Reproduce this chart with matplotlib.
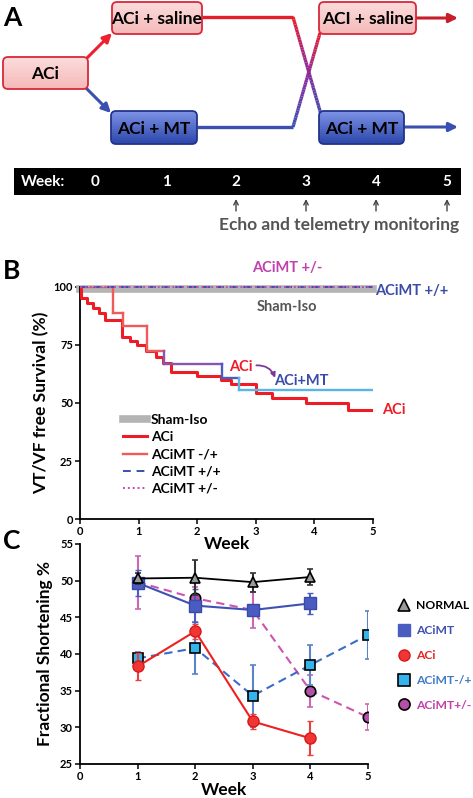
import numpy as np
import matplotlib
matplotlib.use('Agg')
import matplotlib.pyplot as plt
from matplotlib.patches import FancyBboxPatch, Rectangle
from matplotlib.collections import LineCollection
from matplotlib.colors import LinearSegmentedColormap, to_rgb
from matplotlib.lines import Line2D

plt.rcParams['font.family'] = ['Lato', 'DejaVu Sans']
plt.rcParams['font.weight'] = 'bold'

# ---- panel B data (Kaplan-Meier style steps) ----
aci_weeks = [0, 0.02, 0.12, 0.22, 0.32, 0.43, 0.71, 0.86, 0.97, 1.12, 1.30, 1.42, 1.56,
             1.99, 2.41, 2.58, 3.01, 3.28, 3.85, 4.57, 5.0]
aci_surv = [100, 95.0, 93.0, 90.8, 88.7, 85.6, 78.5, 76.7, 75.0, 72.5, 69.9, 67.0, 63.5,
            61.5, 60.0, 58.0, 54.5, 52.3, 49.8, 47.2, 47.2]
swap_weeks = [0, 0.57, 0.73, 1.15, 1.44, 2.43, 2.71, 5.0]
swap_surv = [100, 88.7, 83.2, 72.5, 66.6, 60.8, 55.5, 55.5]
swap_colors = ['#f05a5a', '#f05a5a', '#f05a5a', '#f05a5a', '#8a55b0', '#4a5cc0', '#5ab4e6']
flat_weeks = [0, 5]
sham_surv = [99, 99]
mt_pp_surv = [100, 100]
mt_pm_surv = [100, 100]

# ---- panel C data (fractional shortening) ----
normal_wk = [1, 2, 3, 4]
normal_fs = [50.3, 50.4, 49.8, 50.5]
normal_err = [0.8, 2.4, 1.3, 1.1]
acimt_wk = [1, 2, 3, 4]
acimt_fs = [49.7, 46.6, 46.0, 46.9]
acimt_err = [1.8, 2.3, 0.5, 1.4]
aci_wk = [1, 2, 3, 4]
aci_fs = [38.3, 43.1, 30.8, 28.5]
aci_err = [1.9, 1.0, 1.0, 2.3]
mp_wk = [1, 2, 3, 4, 5]
mp_fs = [39.4, 40.8, 34.3, 38.5, 42.6]
mp_err = [0.9, 3.5, 4.2, 2.7, 3.3]
pm_wk = [1, 2, 3, 4, 5]
pm_fs = [49.8, 47.6, 46.0, 35.0, 31.4]
pm_err = [3.6, 1.5, 2.4, 2.2, 1.8]

week_labels = ['0', '1', '2', '3', '4', '5']
echo_weeks = [2, 3, 4, 5]

W, H = 473, 798
fig = plt.figure(figsize=(W / 100, H / 100), dpi=100)

# overlay in pixel coordinates for panel A and panel letters
ax0 = fig.add_axes([0, 0, 1, 1])
ax0.set_xlim(0, W)
ax0.set_ylim(H, 0)
ax0.axis('off')


def grad_box(x0, y0, w, h, c_top, c_bot, edge, text):
    patch = FancyBboxPatch((x0, y0), w, h, boxstyle='round,pad=0,rounding_size=5',
                           fc='none', ec=edge, lw=1.3, zorder=4)
    ax0.add_patch(patch)
    cmap = LinearSegmentedColormap.from_list('g', [c_top, c_bot])
    im = ax0.imshow(np.linspace(0, 1, 64).reshape(-1, 1), extent=(x0, x0 + w, y0 + h, y0),
                    origin='upper', cmap=cmap, aspect='auto', zorder=3)
    im.set_clip_path(patch)
    ax0.text(x0 + w / 2, y0 + h / 2 + 1, text, ha='center', va='center', fontsize=12.5,
             fontweight='bold', color='black', zorder=5)


pink = ('#fcdcdc', '#f6b9b9', '#d8283a')
blue = ('#7d93e6', '#2c47aa', '#22348a')
grad_box(3, 57, 85, 32, *pink, 'ACi')
grad_box(112, 2, 90, 32, *pink, 'ACi + saline')
grad_box(111, 111, 86, 33, *blue, 'ACi + MT')
grad_box(319, 2, 97, 32, *pink, 'ACI + saline')
grad_box(319, 111, 85, 33, *blue, 'ACi + MT')

red_c, blue_c, purple_c = '#e61e2a', '#3a4fb0', '#8a2aa0'


def grad_line(pts, c0, c1):
    (xa, ya), (xb, yb), (xc, yc) = pts
    ax0.plot([xa, xb], [ya, yb], color=c0, lw=2.4, solid_capstyle='butt', zorder=2)
    t = np.linspace(0, 1, 41)
    xs = xb + (xc - xb) * t
    ys = yb + (yc - yb) * t
    segs = np.stack([np.column_stack([xs[:-1], ys[:-1]]), np.column_stack([xs[1:], ys[1:]])], axis=1)
    a, b, m = np.array(to_rgb(c0)), np.array(to_rgb(c1)), np.array(to_rgb(purple_c))
    cols = []
    for tt in t[:-1]:
        cols.append(a + (m - a) * tt * 2 if tt < 0.5 else m + (b - m) * (tt - 0.5) * 2)
    ax0.add_collection(LineCollection(segs, colors=cols, lw=2.4, zorder=2))


grad_line([(202, 17), (293, 17), (322, 118)], red_c, blue_c)
grad_line([(197, 127), (293, 127), (320, 33)], blue_c, red_c)

arrow_kw = dict(arrowstyle='-|>', lw=2.2, mutation_scale=13, shrinkA=0, shrinkB=0)
ax0.annotate('', xy=(458, 18), xytext=(416, 18), arrowprops=dict(color='#c81e2a', **arrow_kw), zorder=2)
ax0.annotate('', xy=(458, 127), xytext=(404, 127), arrowprops=dict(color='#3a4fb0', **arrow_kw), zorder=2)
ax0.annotate('', xy=(112, 33), xytext=(86, 59), arrowprops=dict(color='#ee2030', **arrow_kw), zorder=2)
ax0.annotate('', xy=(111, 113), xytext=(86, 88), arrowprops=dict(color='#3a4fb0', **arrow_kw), zorder=2)

# timeline bar
ax0.add_patch(Rectangle((14, 168), 447, 27, fc='black', ec='none'))
ax0.text(21, 182, 'Week:', color='white', fontsize=11, fontweight='bold', ha='left', va='center')
bar_x = [95, 166, 236, 306, 376, 447]
for lab, xx in zip(week_labels, bar_x):
    ax0.text(xx, 182, lab, color='white', fontsize=11, fontweight='bold', ha='center', va='center')
for wk in echo_weeks:
    xx = bar_x[wk]
    ax0.annotate('', xy=(xx, 199), xytext=(xx, 211),
                 arrowprops=dict(arrowstyle='->', lw=1.0, color='#444444', mutation_scale=8,
                                 shrinkA=0, shrinkB=0))
ax0.text(459, 225, 'Echo and telemetry monitoring', ha='right', va='center', fontsize=12.5,
         fontweight='bold', color='#555555')

for lab, yy in [('A', 18), ('B', 271), ('C', 541)]:
    ax0.text(3, yy, lab, fontsize=19, fontweight='bold', ha='left', va='center')

# ---------------- panel B ----------------
axB = fig.add_axes([80 / W, 1 - 519.3 / H, 293 / W, 232.6 / H])
axB.plot(flat_weeks, sham_surv, color='#b4b4b4', lw=5.5, clip_on=False, zorder=2)
axB.step(aci_weeks, aci_surv, where='post', color='#ee1c25', lw=2.2, zorder=3)
for i in range(len(swap_weeks) - 1):
    c = swap_colors[i]
    axB.plot([swap_weeks[i], swap_weeks[i + 1]], [swap_surv[i], swap_surv[i]], color=c, lw=1.7, zorder=4)
    if i < len(swap_weeks) - 2:
        axB.plot([swap_weeks[i + 1], swap_weeks[i + 1]], [swap_surv[i], swap_surv[i + 1]],
                 color=swap_colors[i + 1] if i >= 3 else c, lw=1.7, zorder=4)
axB.plot(flat_weeks, mt_pp_surv, color='#3a4fb0', lw=1.4, ls=(0, (4, 3)), clip_on=False, zorder=5)
axB.plot(flat_weeks, mt_pm_surv, color='#c050b0', lw=1.4, ls=(0, (1, 1.5)), clip_on=False, zorder=5)

axB.set_xlim(0, 5)
axB.set_ylim(0, 100)
axB.set_xticks(range(6))
axB.set_yticks([0, 25, 50, 75, 100])
for s in ['top', 'right']:
    axB.spines[s].set_visible(False)
for s in ['left', 'bottom']:
    axB.spines[s].set_linewidth(1.3)
axB.tick_params(labelsize=8, length=3.5, width=1.1, pad=1.5)
axB.set_ylabel('VT/VF free Survival (%)', fontsize=12.5, fontweight='bold', labelpad=3)
axB.set_xlabel('Week', fontsize=12.5, fontweight='bold', labelpad=-1)

axB.text(3.53, 108, 'ACiMT +/-', color='#c040b0', fontsize=10.5, fontweight='bold', ha='center', va='center', clip_on=False)
axB.text(5.03, 98.3, 'ACiMT +/+', color='#3b4ba8', fontsize=10.5, fontweight='bold', ha='left', va='center', clip_on=False)
axB.text(3.53, 91.3, 'Sham-Iso', color='#555555', fontsize=10.5, fontweight='bold', ha='center', va='center')
axB.text(2.75, 65.5, 'ACi', color='#ee1c25', fontsize=10.5, fontweight='bold', ha='center', va='center')
axB.text(3.77, 59.3, 'ACi+MT', color='#3b4ba8', fontsize=10.5, fontweight='bold', ha='center', va='center')
axB.text(5.15, 46.8, 'ACi', color='#ee1c25', fontsize=10.5, fontweight='bold', ha='left', va='center', clip_on=False)
axB.annotate('', xy=(3.33, 60.8), xytext=(3.01, 66.2),
             arrowprops=dict(arrowstyle='-|>', color='#7a3a9a', lw=1.3, mutation_scale=7,
                             connectionstyle='arc3,rad=-0.35', shrinkA=0, shrinkB=0))

b_handles = [Line2D([], [], color='#b4b4b4', lw=5.5),
             Line2D([], [], color='#ee1c25', lw=2.2),
             Line2D([], [], color='#f05a5a', lw=1.7),
             Line2D([], [], color='#3a4fb0', lw=1.4, ls=(0, (4, 3))),
             Line2D([], [], color='#c050b0', lw=1.4, ls=(0, (1, 1.5)))]
b_labels = ['Sham-Iso', 'ACi', 'ACiMT -/+', 'ACiMT +/+', 'ACiMT +/-']
axB.legend(b_handles, b_labels, loc='upper left', bbox_to_anchor=(0.147, 0.452), frameon=False,
           prop={'size': 10, 'weight': 'bold'}, handlelength=1.75, handletextpad=0.25,
           labelspacing=0.37, borderpad=0, borderaxespad=0)

# ---------------- panel C ----------------
axC = fig.add_axes([80 / W, 1 - 764 / H, 288 / W, 220 / H])
axC.set_facecolor('none')
eb = dict(capsize=2, elinewidth=1.5, capthick=1.2)
axC.errorbar(pm_wk, pm_fs, yerr=pm_err, color='#cc55b0', ecolor='#cc66b0', ls=(0, (4, 2.5)), lw=1.5,
             marker='o', ms=7.5, mfc='#b550a8', mec='black', mew=1.2, zorder=3, **eb)
axC.errorbar(mp_wk, mp_fs, yerr=mp_err, color='#3a6cc8', ecolor='#5a84c8', ls=(0, (4, 2.5)), lw=1.5,
             marker='s', ms=7.5, mfc='#33b4ec', mec='black', mew=1.2, zorder=4, **eb)
axC.errorbar(aci_wk, aci_fs, yerr=aci_err, color='#ee2020', ecolor='#e84040', lw=1.5,
             marker='o', ms=8, mfc='#f03535', mec='#d81818', mew=1.0, zorder=5, **eb)
axC.errorbar(acimt_wk, acimt_fs, yerr=acimt_err, color='#3f51b5', ecolor='#4a5cc0', lw=1.5,
             marker='s', ms=8, mfc='#4a5cc0', mec='#3a4aa8', mew=1.0, zorder=6, **eb)
axC.errorbar(normal_wk, normal_fs, yerr=normal_err, color='black', ecolor='#333333', lw=1.3,
             marker='^', ms=7, mfc='#9a9a9a', mec='black', mew=1.2, zorder=7, **eb)

axC.set_xlim(0, 5)
axC.set_ylim(25, 55)
axC.set_xticks(range(6))
axC.set_yticks(range(25, 56, 5))
for s in ['top', 'right']:
    axC.spines[s].set_visible(False)
for s in ['left', 'bottom']:
    axC.spines[s].set_linewidth(1.3)
axC.tick_params(labelsize=8, length=3.5, width=1.1, pad=1.5)
axC.set_ylabel('Fractional Shortening %', fontsize=12.5, fontweight='bold', labelpad=5)
axC.set_xlabel('Week', fontsize=12.5, fontweight='bold', labelpad=0)

c_handles = [Line2D([], [], ls='none', marker='^', ms=8, mfc='#9a9a9a', mec='black', mew=1.2),
             Line2D([], [], ls='none', marker='s', ms=8, mfc='#4a5cc0', mec='#4a5cc0'),
             Line2D([], [], ls='none', marker='o', ms=8, mfc='#f03535', mec='#d81818'),
             Line2D([], [], ls='none', marker='s', ms=8, mfc='#33b4ec', mec='black', mew=1.2),
             Line2D([], [], ls='none', marker='o', ms=8, mfc='#b550a8', mec='black', mew=1.2)]
c_labels = ['NORMAL', 'ACiMT', 'ACi', 'ACiMT-/+', 'ACiMT+/-']
c_colors = ['black', '#3f4fb0', '#e52222', '#3f7ac8', '#c040a8']
leg = axC.legend(c_handles, c_labels, loc='upper left', bbox_to_anchor=(1.105, 0.745), frameon=False,
                 prop={'size': 8.7, 'weight': 'bold'}, handlelength=1.0, handletextpad=0.5,
                 labelspacing=1.15, borderpad=0, borderaxespad=0)
for t, c in zip(leg.get_texts(), c_colors):
    t.set_color(c)

fig.savefig('out.png', dpi=100)
